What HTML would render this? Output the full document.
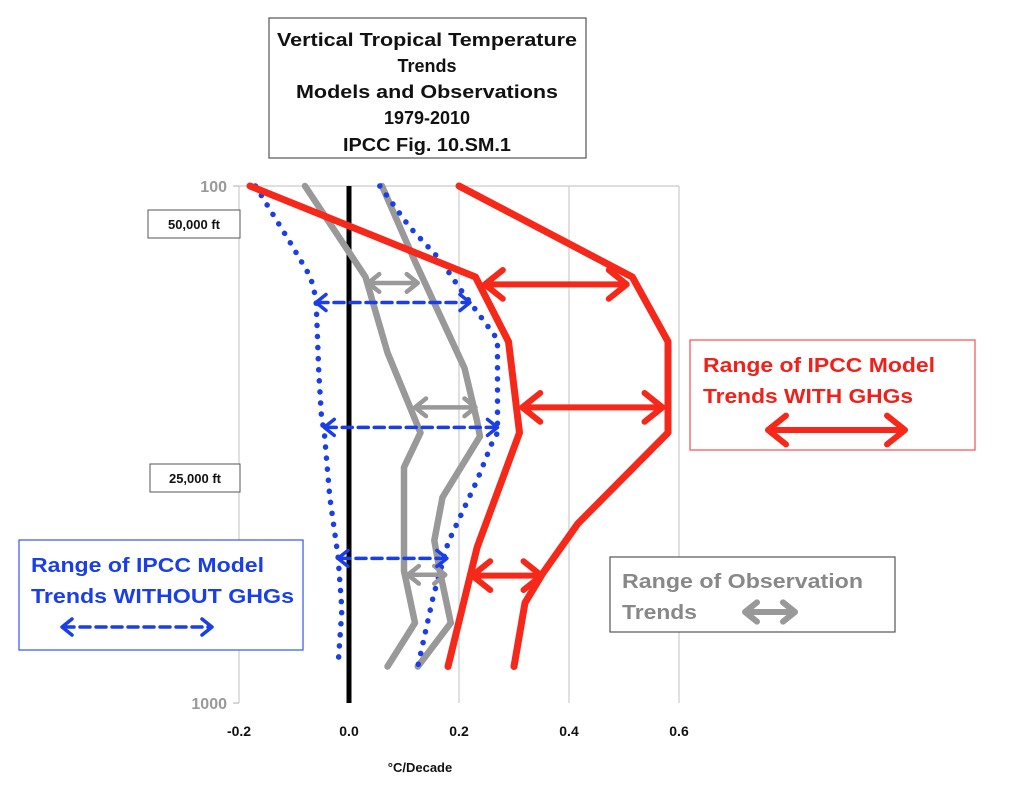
<!DOCTYPE html>
<html><head><meta charset="utf-8"><style>
html,body{margin:0;padding:0;background:#fff;}
svg{display:block;font-family:"Liberation Sans",sans-serif;}
</style></head><body>
<svg id="chart" width="1024" height="790" viewBox="0 0 1024 790">
<g id="grid"></g>
<g id="marks"></g>
<g>
<rect x="269" y="18" width="317" height="140" fill="#fff" stroke="#555" stroke-width="1.2"/>
<g font-weight="bold" font-size="18" fill="#111" text-anchor="middle">
<text x="427" y="46" textLength="300" lengthAdjust="spacingAndGlyphs">Vertical Tropical Temperature</text>
<text x="427" y="72">Trends</text>
<text x="427" y="98" textLength="262" lengthAdjust="spacingAndGlyphs">Models and Observations</text>
<text x="427" y="124">1979-2010</text>
<text x="427" y="151" textLength="168" lengthAdjust="spacingAndGlyphs">IPCC Fig. 10.SM.1</text>
</g></g>
<g>
<rect x="148" y="210" width="92" height="28" fill="#fff" stroke="#555"/>
<text x="194" y="229" font-size="13" font-weight="bold" text-anchor="middle" fill="#111">50,000 ft</text></g>
<g>
<rect x="150" y="464" width="90" height="28" fill="#fff" stroke="#555"/>
<text x="195" y="483" font-size="13" font-weight="bold" text-anchor="middle" fill="#111">25,000 ft</text></g>
<g>
<rect x="19" y="540" width="284" height="110" fill="#fff" stroke="#3355ee" stroke-width="1.2"/>
<text x="31" y="572" font-size="20" font-weight="bold" fill="#1a3ee8" textLength="233" lengthAdjust="spacingAndGlyphs">Range of IPCC Model</text>
<text x="31" y="603" font-size="20" font-weight="bold" fill="#1a3ee8" textLength="263" lengthAdjust="spacingAndGlyphs">Trends WITHOUT GHGs</text>
<g id="leg-blue"></g></g>
<g>
<rect x="610" y="557" width="285" height="75" fill="#fff" stroke="#555" stroke-width="1.2"/>
<text x="622" y="588" font-size="20" font-weight="bold" fill="#888" textLength="241" lengthAdjust="spacingAndGlyphs">Range of Observation</text>
<text x="622" y="619" font-size="20" font-weight="bold" fill="#888" textLength="75" lengthAdjust="spacingAndGlyphs">Trends</text>
<g id="leg-gray"></g></g>
<g>
<rect x="690" y="340" width="285" height="110" fill="#fff" stroke="#f05050" stroke-width="1.2"/>
<text x="703" y="372" font-size="20" font-weight="bold" fill="#f0201a" textLength="232" lengthAdjust="spacingAndGlyphs">Range of IPCC Model</text>
<text x="703" y="403" font-size="20" font-weight="bold" fill="#f0201a" textLength="210" lengthAdjust="spacingAndGlyphs">Trends WITH GHGs</text>
<g id="leg-red"></g></g>
<g id="axes"></g>
</svg>
<script>
const xTicks = [-0.2, 0.0, 0.2, 0.4, 0.6];
const xTickLabels = ["-0.2", "0.0", "0.2", "0.4", "0.6"];
const yTicks = [100, 1000];
const yTickLabels = ["100", "1000"];

const redLeftP = [100, 150, 200, 300, 500, 850];
const redLeftV = [-0.18, 0.23, 0.29, 0.31, 0.233, 0.18];
const redRightP = [100, 150, 200, 300, 450, 560, 640, 850];
const redRightV = [0.20, 0.515, 0.58, 0.58, 0.416, 0.353, 0.32, 0.30];
const grayLeftP = [100, 150, 210, 300, 350, 555, 700, 850];
const grayLeftV = [-0.08, 0.03, 0.07, 0.13, 0.10, 0.10, 0.12, 0.07];
const grayRightP = [100, 140, 225, 285, 305, 400, 485, 555, 700, 850];
const grayRightV = [0.06, 0.12, 0.21, 0.233, 0.238, 0.17, 0.155, 0.165, 0.185, 0.125];
const blueLeftP = [100, 127, 150, 165, 230, 280, 300, 400, 520, 660, 850];
const blueLeftV = [-0.17, -0.11, -0.07, -0.06, -0.055, -0.05, -0.045, -0.035, -0.02, -0.013, -0.02];
const blueRightP = [100, 120, 139, 157, 198, 300, 314, 371, 490, 624, 850];
const blueRightV = [0.056, 0.11, 0.166, 0.20, 0.27, 0.27, 0.26, 0.233, 0.18, 0.153, 0.125];

const grayArrowP = [154, 268, 565];
const grayArrowFrom = [0.035, 0.12, 0.107];
const grayArrowTo = [0.125, 0.23, 0.175];
const blueArrowP = [168, 293, 525];
const blueArrowFrom = [-0.06, -0.045, -0.02];
const blueArrowTo = [0.22, 0.27, 0.178];
const redArrowP = [155, 268, 567];
const redArrowFrom = [0.247, 0.315, 0.224];
const redArrowTo = [0.505, 0.57, 0.35];

const NS = "http://www.w3.org/2000/svg";
const X0 = 349, XS = 550, YT = 186, YB = 703;
function xs(v){ return X0 + v * XS; }
function ys(p){ return YT + (Math.log10(p) - 2) * (YB - YT); }
function mk(tag, attrs, parent){
  const e = document.createElementNS(NS, tag);
  for (const k in attrs) e.setAttribute(k, attrs[k]);
  parent.appendChild(e); return e;
}
const grid = document.getElementById('grid');
const axes = document.getElementById('axes');
const marks = document.getElementById('marks');

xTicks.forEach((t, i) => {
  if (t !== 0) {
    const l = mk('line', {x1: xs(t), x2: xs(t), y1: YT, y2: YB, stroke: '#ccc', 'stroke-width': 1.2}, grid);
    
    
  }
  const tx = mk('text', {x: xs(t), y: 736, 'font-size': 14, 'font-weight': 'bold', 'text-anchor': 'middle', fill: '#111'}, axes);
  tx.textContent = xTickLabels[i];
  
  
});
{
  const l = mk('line', {x1: xs(-0.2), x2: xs(0.6), y1: ys(100), y2: ys(100), stroke: '#ccc', 'stroke-width': 1.2}, grid);
  
  
}
yTicks.forEach((t, i) => {
  const l = mk('line', {x1: xs(-0.2) - 6, x2: xs(-0.2), y1: ys(t), y2: ys(t), stroke: '#bbb', 'stroke-width': 1.2}, grid);
  
  
  const tx = mk('text', {x: xs(-0.2) - 12, y: ys(t) + 6, 'font-size': 16, 'font-weight': 'bold', 'text-anchor': 'end', fill: '#999'}, axes);
  tx.textContent = yTickLabels[i];
  
  
});
{
  const xt = mk('text', {x: 420, y: 772, 'font-size': 13, 'font-weight': 'bold', 'text-anchor': 'middle', fill: '#111'}, axes);
  xt.textContent = '°C/Decade';
  
  
}
const zero = mk('line', {x1: xs(0), x2: xs(0), y1: YT, y2: YB, stroke: '#000', 'stroke-width': 5}, marks);



function series(P, V, color, w, dash, name){
  const pts = P.map((p, i) => xs(V[i]).toFixed(1) + ',' + ys(p).toFixed(1)).join(' ');
  const a = {points: pts, fill: 'none', stroke: color, 'stroke-width': w, 'stroke-linejoin': 'round', 'stroke-linecap': 'round'};
  if (dash) a['stroke-dasharray'] = dash;
  const e = mk('polyline', a, marks);
  
  
}
series(grayLeftP, grayLeftV, '#999', 6.5, null, 'obs-range-left');
series(grayRightP, grayRightV, '#999', 6.5, null, 'obs-range-right');
series(blueLeftP, blueLeftV, '#1a3ee8', 5.5, '0.1 11', 'no-ghg-range-left');
series(blueRightP, blueRightV, '#1a3ee8', 5.5, '0.1 11', 'no-ghg-range-right');
series(redLeftP, redLeftV, '#f5281a', 7, null, 'ghg-range-left');
series(redRightP, redRightV, '#f5281a', 7, null, 'ghg-range-right');

function arrowPx(x1, x2, y, color, w, dash, head, parent, name){
  const g = mk('g', {fill: 'none', stroke: color, 'stroke-width': w, 'stroke-linecap': 'round', 'stroke-linejoin': 'round'}, parent);
  
  
  const la = {x1: x1 + 2, x2: x2 - 2, y1: y, y2: y};
  if (dash) la['stroke-dasharray'] = dash;
  mk('line', la, g);
  mk('polyline', {points: `${x1 + head},${y - head * 0.8} ${x1},${y} ${x1 + head},${y + head * 0.8}`}, g);
  mk('polyline', {points: `${x2 - head},${y - head * 0.8} ${x2},${y} ${x2 - head},${y + head * 0.8}`}, g);
}
grayArrowP.forEach((p, i) => arrowPx(xs(grayArrowFrom[i]), xs(grayArrowTo[i]), ys(p), '#999', 4.5, null, 11, marks, 'obs-range-arrow'));
blueArrowP.forEach((p, i) => arrowPx(xs(blueArrowFrom[i]), xs(blueArrowTo[i]), ys(p), '#1a3ee8', 3.5, '10 6', 10, marks, 'no-ghg-range-arrow'));
redArrowP.forEach((p, i) => arrowPx(xs(redArrowFrom[i]), xs(redArrowTo[i]), ys(p), '#f5281a', 6, null, 18, marks, 'ghg-range-arrow'));

arrowPx(62, 212, 627, '#1a3ee8', 3.5, '10 6', 10, document.getElementById('leg-blue'), 'legend-blue-arrow');
arrowPx(745, 795, 612, '#999', 6, null, 12, document.getElementById('leg-gray'), 'legend-gray-arrow');
arrowPx(768, 905, 430, '#f5281a', 6, null, 18, document.getElementById('leg-red'), 'legend-red-arrow');
</script>
</body></html>
